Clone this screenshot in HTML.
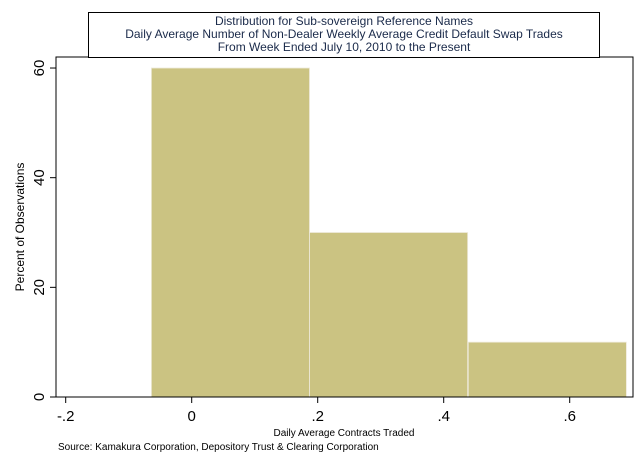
<!DOCTYPE html>
<html><head><meta charset="utf-8"><style>
body{margin:0;background:#fff;font-family:"Liberation Sans",sans-serif}
svg{display:block}
</style></head><body>
<svg width="640" height="460" xmlns="http://www.w3.org/2000/svg" font-family="Liberation Sans, sans-serif">
<rect x="0" y="0" width="640" height="460" fill="#fff"/>
<rect x="56" y="57" width="577" height="340" fill="#fff" stroke="#000" stroke-width="1"/>
<g id="bars"></g>
<line x1="56" y1="57" x2="56" y2="397" stroke="#000"/>
<line x1="56" y1="397" x2="633" y2="397" stroke="#000"/>
<g id="yticks"></g><g id="xticks"></g>
<rect x="88.5" y="12.5" width="511" height="45" fill="#fff" stroke="#000"/>
<g font-size="12" fill="#1a2a4a" text-anchor="middle">
<text x="344" y="25">Distribution for Sub-sovereign Reference Names</text>
<text x="344" y="38">Daily Average Number of Non-Dealer Weekly Average Credit Default Swap Trades</text>
<text x="344" y="51">From Week Ended July 10, 2010 to the Present</text>
</g>
<text x="24" y="227" font-size="12" text-anchor="middle" transform="rotate(-90 24 227)">Percent of Observations</text>
<text x="344" y="436" font-size="10" text-anchor="middle">Daily Average Contracts Traded</text>
<text x="58" y="450" font-size="10">Source: Kamakura Corporation, Depository Trust &amp; Clearing Corporation</text>
</svg>
<script>
const binStarts=[-0.064,0.187,0.439];
const binWidth=0.251;
const percents=[60,30,10];
const xTicks=[-0.2,0,0.2,0.4,0.6];
const xTickLabels=["-.2","0",".2",".4",".6"];
const yTicks=[0,20,40,60];
const ns="http://www.w3.org/2000/svg";
const X=v=>191.7+(v)*630;
const Y=v=>397-v*5.483;
const bars=document.getElementById('bars');
binStarts.forEach((s,i)=>{
 const r=document.createElementNS(ns,'rect');
 r.setAttribute('x',X(s));r.setAttribute('y',Y(percents[i]));
 r.setAttribute('width',X(s+binWidth)-X(s));r.setAttribute('height',Y(0)-Y(percents[i]));
 r.setAttribute('fill','#cbc382');r.setAttribute('stroke','#eeeadb');r.setAttribute('stroke-width','0.8');
 
 
 bars.appendChild(r);
});
const yt=document.getElementById('yticks');
yTicks.forEach(v=>{
 const l=document.createElementNS(ns,'line');
 l.setAttribute('x1',50);l.setAttribute('x2',56);l.setAttribute('y1',Y(v));l.setAttribute('y2',Y(v));l.setAttribute('stroke','#000');
 
 
 yt.appendChild(l);
 const t=document.createElementNS(ns,'text');
 t.setAttribute('x',44);t.setAttribute('y',Y(v));t.setAttribute('font-size','15');t.setAttribute('text-anchor','middle');
 t.setAttribute('transform','rotate(-90 44 '+Y(v)+')');t.textContent=v;
 
 
 yt.appendChild(t);
});
const xt=document.getElementById('xticks');
xTicks.forEach((v,i)=>{
 const l=document.createElementNS(ns,'line');
 l.setAttribute('x1',X(v));l.setAttribute('x2',X(v));l.setAttribute('y1',397);l.setAttribute('y2',403);l.setAttribute('stroke','#000');
 
 
 xt.appendChild(l);
 const t=document.createElementNS(ns,'text');
 t.setAttribute('x',X(v));t.setAttribute('y',421);t.setAttribute('font-size','15');t.setAttribute('text-anchor','middle');
 t.textContent=xTickLabels[i];
 
 
 xt.appendChild(t);
});
</script>
</body></html>
